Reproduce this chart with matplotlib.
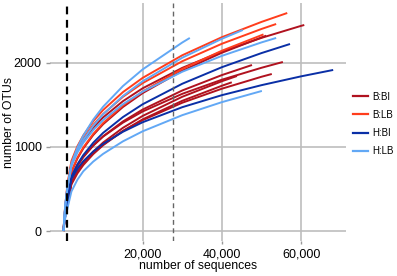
import matplotlib
matplotlib.use("Agg")
import matplotlib.pyplot as plt
from matplotlib.lines import Line2D

plt.rcParams['font.family'] = ['Liberation Sans', 'DejaVu Sans']

depth = [0, 250, 500, 1000, 2000, 3500, 5000, 7500, 10000, 15000, 20000,
         30000, 40000, 50000, 60000]

# B:BI samples (max depth, OTUs along depth grid up to max)
bbi_max = [60800, 51200, 55400, 47600, 52600, 43800, 42500]
bbi_otus = [
    [0, 175, 300, 506, 795, 956, 1075, 1229, 1352, 1545, 1699, 1942, 2136, 2299, 2442, 2452],
    [0, 160, 265, 434, 700, 862, 983, 1142, 1271, 1476, 1642, 1908, 2122, 2304, 2325],
    [0, 140, 230, 385, 650, 787, 888, 1019, 1124, 1290, 1423, 1633, 1801, 1943, 2012],
    [0, 140, 225, 369, 631, 772, 878, 1016, 1127, 1304, 1446, 1673, 1856, 1976],
    [0, 125, 200, 323, 576, 705, 802, 927, 1029, 1190, 1320, 1527, 1694, 1836, 1869],
    [0, 120, 195, 316, 571, 707, 809, 944, 1053, 1228, 1370, 1598, 1783, 1845],
    [0, 120, 190, 307, 554, 685, 785, 915, 1021, 1191, 1329, 1550, 1729, 1770],
]

# B:LB samples
blb_max = [56500, 53700, 50500]
blb_otus = [
    [0, 190, 330, 560, 833, 1008, 1138, 1306, 1440, 1653, 1823, 2092, 2307, 2489, 2595],
    [0, 185, 315, 540, 805, 974, 1099, 1262, 1391, 1597, 1761, 2021, 2229, 2405, 2464],
    [0, 165, 270, 440, 708, 872, 995, 1155, 1285, 1493, 1661, 1930, 2146, 2331, 2340],
]

# H:BI samples
hbi_max = [57200, 68100]
hbi_otus = [
    [0, 150, 245, 398, 644, 792, 904, 1050, 1168, 1356, 1509, 1753, 1950, 2118, 2226],
    [0, 130, 215, 348, 620, 741, 831, 946, 1037, 1181, 1295, 1474, 1617, 1736, 1841, 1917],
]

# H:LB samples
hlb_max = [31900, 45300, 53700, 50100]
hlb_otus = [
    [0, 200, 340, 524, 802, 992, 1136, 1325, 1479, 1725, 1924, 2244, 2298],
    [0, 185, 320, 515, 778, 952, 1083, 1252, 1389, 1607, 1783, 2063, 2288, 2393],
    [0, 190, 320, 525, 776, 933, 1050, 1200, 1320, 1509, 1659, 1896, 2085, 2245, 2298],
    [0, 110, 165, 270, 470, 610, 711, 826, 918, 1067, 1187, 1379, 1534, 1666, 1667],
]

groups = ['B:BI', 'B:LB', 'H:BI', 'H:LB']
colors = ['#b0121f', '#ff3d1c', '#0a2fa6', '#62a8f5']
min_depth = 1000
median_depth = 27700


def sample_depths(max_depth):
    return [d for d in depth if d < max_depth] + [max_depth]


fig = plt.figure(figsize=(3.97, 2.76), dpi=100)
ax = fig.add_axes([50 / 397, (276 - 241) / 276, 296 / 397, 238 / 276])

for grp_max, grp_otus, col in zip([bbi_max, blb_max, hbi_max, hlb_max],
                                  [bbi_otus, blb_otus, hbi_otus, hlb_otus], colors):
    for m, otus in zip(grp_max, grp_otus):
        ax.plot(sample_depths(m), otus, color=col, lw=1.4, zorder=3,
                solid_capstyle='butt')

ax.axvline(min_depth, color='black', lw=1.6, ls=(0, (3.5, 2.5)), zorder=5)
ax.axvline(median_depth, color='#666666', lw=1.0, ls=(0, (3.5, 2.5)), zorder=5)

ax.set_xlim(-3409, 71338)
ax.set_ylim(-119, 2714)
ax.set_xticks([20000, 40000, 60000])
ax.set_xticklabels(['20,000', '40,000', '60,000'])
ax.set_yticks([0, 1000, 2000])
ax.grid(True, color='#bdbdbd', lw=1.2, zorder=0)
ax.set_axisbelow(True)
for s in ax.spines.values():
    s.set_visible(False)
ax.tick_params(axis='both', color='#999999', labelsize=9, width=1)
ax.tick_params(axis='y', length=3, pad=3)
ax.tick_params(axis='x', length=2, pad=3.5)

fig.text(198.5 / 397, 1 - 266.5 / 276, 'number of sequences', ha='center',
         va='center', fontsize=8.8)
fig.text(9 / 397, 1 - 123 / 276, 'number of OTUs', ha='center', va='center',
         rotation=90, fontsize=8.8)

handles = [Line2D([], [], color=c, lw=1.6) for c in colors]
fig.legend(handles, groups, loc='center left', bbox_to_anchor=(353 / 397, 1 - 124 / 276),
           frameon=False, fontsize=7, handlelength=1.55, handletextpad=0.45,
           labelspacing=0.85, borderaxespad=0, borderpad=0)

fig.savefig('out.png', dpi=100)
